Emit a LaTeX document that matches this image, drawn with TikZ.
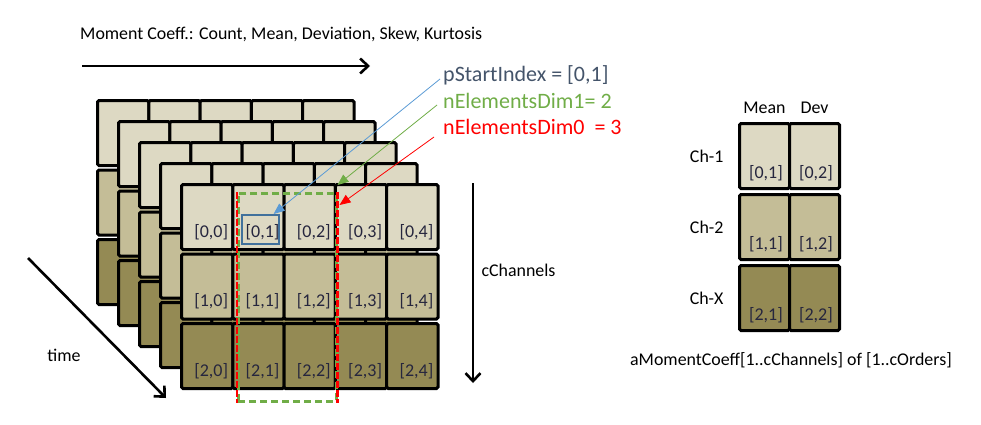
\documentclass[tikz,border=0pt]{standalone}
\usepackage{fontspec}
\setmainfont{Carlito}
\usetikzlibrary{arrows.meta, positioning}
\definecolor{tanlight}{RGB}{221,217,195}
\definecolor{tanmid}{RGB}{196,189,151}
\definecolor{tandark}{RGB}{148,138,84}
\definecolor{idxblue}{RGB}{68,84,106}
\definecolor{boxblue}{RGB}{65,113,156}
\definecolor{arrblue}{RGB}{91,155,213}
\definecolor{selgreen}{RGB}{112,173,71}
\definecolor{idxtext}{RGB}{38,38,62}

\begin{document}
\begin{tikzpicture}[
    x=1pt, y=-1pt,
    cell/.style={draw, line width=3pt, rounded corners=1.5pt, minimum width=51.3pt, minimum height=65pt, inner sep=0pt, anchor=north west},
    idx/.style={font=\fontsize{18}{21}\selectfont, text=idxtext, anchor=south east, inner sep=0pt},
    lbl/.style={font=\fontsize{17.9}{21}\selectfont},
    big/.style={font=\fontsize{22}{26}\selectfont, anchor=west, inner sep=0pt},
    dir/.style={-{Straight Barb[length=8pt, width=15pt]}, line width=2.6pt},
    ptr/.style={-{Triangle[length=11pt, width=9pt]}, line width=0.8pt}
  ]
  \useasboundingbox (0,0) rectangle (981,424);

  % stacked layers, back to front
  \foreach \k in {0,...,4}
    \foreach \r/\fc in {0/tanlight, 1/tanmid, 2/tandark}
      \foreach \c in {0,...,4}
        \node[cell, fill=\fc] (L\k-\r\c) at ({96+21*\k+51.3*\c}, {99+21*\k+69.5*\r}) {};
  \foreach \r in {0,1,2}
    \foreach \c in {0,...,4}
      \node[idx] (i\r\c) at ([xshift=-6pt, yshift=11pt]L4-\r\c.south east) {[\r,\c]};

  % selection
  \node[draw=boxblue, line width=1.6pt, minimum width=37pt, minimum height=29pt, anchor=north west] (start) at (241,214) {};
  \node[draw=selgreen, dash pattern=on 7pt off 4pt, line width=2.5pt, minimum width=98pt, minimum height=208pt, inner sep=0pt, anchor=north west] (dimone) at (237,192) {};
  \draw[red, line width=2.5pt, dash pattern=on 7pt off 2pt] (dimone.north west) -- (dimone.south west);
  \draw[red, line width=2.5pt, dash pattern=on 7pt off 2pt] (dimone.north east) -- (dimone.south east);

  \node[big, text=idxblue] (pstart) at (443,75) {pStartIndex = [0,1]};
  \node[big, text=selgreen] (nelone) at (443,101) {nElementsDim1= 2};
  \node[big, text=red] (nelzero) at (443,127) {nElementsDim0~ = 3};
  \draw[ptr, arrblue] ([xshift=-3pt, yshift=-4pt]pstart.west) -- ([xshift=-6pt]start.north east);
  \draw[ptr, selgreen] ([xshift=-6pt, yshift=-4pt]nelone.west) -- ([yshift=7pt]dimone.north east);
  \draw[ptr, red] ([xshift=-9pt, yshift=-10pt]nelzero.west) -- ([xshift=2pt, yshift=-13pt]dimone.north east);

  % axes
  \node[lbl, anchor=west, inner sep=0pt] (title) at (80,34) {Moment Coeff.: Count, Mean, Deviation, Skew, Kurtosis};
  \coordinate (coef-a) at (82,66);
  \coordinate (coef-b) at (370,66);
  \draw[dir] (coef-a) -- (coef-b);
  \coordinate (time-a) at (28,258);
  \coordinate (time-b) at (166,398);
  \draw[dir] (time-a) -- (time-b);
  \node[lbl] (time) at (64,355) {time};
  \coordinate (chan-a) at (473,183);
  \coordinate (chan-b) at (473,383);
  \draw[dir] (chan-a) -- (chan-b);
  \node[lbl, anchor=west] (chan) at (478,270) {cChannels};

  % result array
  \foreach \r/\fc in {0/tanlight, 1/tanmid, 2/tandark}
    \foreach \c/\j in {0/1, 1/2}
      \node[cell, minimum width=50pt, fill=\fc] (m\r\c) at ({738+50*\c}, {122+71*\r}) {};
  \foreach \r in {0,1,2}
    \foreach \c/\j in {0/1, 1/2}
      \node[idx] (o\r\c) at ([xshift=-8pt, yshift=9pt]m\r\c.south east) {[\r,\j]};
  \node[lbl, above=5pt of m00] (mean) {Mean};
  \node[lbl, above=5pt of m01] (dev) {Dev};
  \node[lbl, left=11pt of m00] (ch1) {Ch-1};
  \node[lbl, left=11pt of m10] (ch2) {Ch-2};
  \node[lbl, left=11pt of m20] (chx) {Ch-X};
  \node[lbl] (caption) at (791,360) {aMomentCoeff[1..cChannels] of [1..cOrders]};
\end{tikzpicture}
\end{document}
